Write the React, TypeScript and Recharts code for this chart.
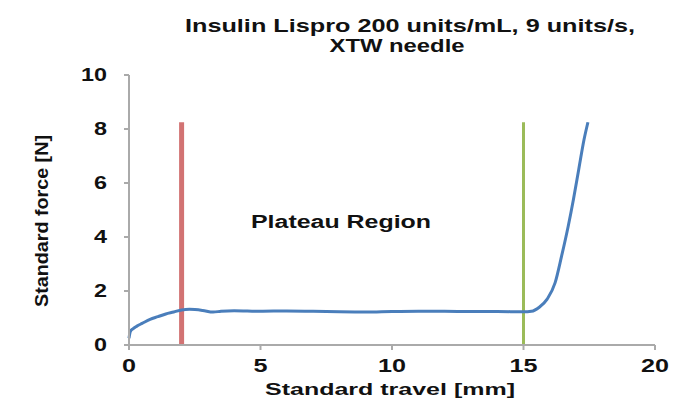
import React from "react";
import {
  LineChart,
  Line,
  XAxis,
  YAxis,
  ReferenceLine,
} from "recharts";

const travel = [
  0, 0.05, 0.15, 0.3, 0.5, 0.8, 1.1, 1.4, 1.7, 2.0, 2.3, 2.8, 3.2, 3.5, 4, 5, 6,
  7, 8, 9, 10, 11, 12, 13, 14, 15, 15.3, 15.6, 15.9, 16.2, 16.45, 16.7, 16.9,
  17.1, 17.3, 17.45,
];
const force = [
  0.25, 0.5, 0.6, 0.7, 0.8, 0.95, 1.05, 1.15, 1.22, 1.3, 1.32, 1.28, 1.22, 1.25,
  1.27, 1.25, 1.26, 1.25, 1.23, 1.22, 1.24, 1.25, 1.25, 1.24, 1.24, 1.23, 1.25,
  1.4, 1.7, 2.3, 3.3, 4.4, 5.4, 6.5, 7.6, 8.25,
];

const xTicks = [0, 5, 10, 15, 20];
const yTicks = [0, 2, 4, 6, 8, 10];

const plateauStart = 2;
const plateauEnd = 15;
const markerTop = 8.25;

const titleLines = ["Insulin Lispro 200 units/mL, 9 units/s,", "XTW needle"];
const xLabel = "Standard travel [mm]";
const yLabel = "Standard force [N]";
const regionLabel = "Plateau Region";

const data = travel.map((x, i) => ({ x, force: force[i] }));

const font = "'Liberation Sans', Arial, sans-serif";
const ink = "#111";

// the source image is stretched sideways, so texts get a fixed length
function stretchWidth(s: string, perChar: number) {
  return s.length * perChar;
}

function YTick(props: any) {
  const { x, y, payload } = props;
  const s = String(payload.value);
  return (
    <text
      x={x - 15}
      y={y + 6}
      textAnchor="end"
      fontSize={18}
      fontWeight="bold"
      fontFamily={font}
      fill={ink}
      textLength={stretchWidth(s, 13)}
      lengthAdjust="spacingAndGlyphs"
    >
      {s}
    </text>
  );
}

function XTick(props: any) {
  const { x, y, payload } = props;
  const s = String(payload.value);
  return (
    <text
      x={x}
      y={y + 20}
      textAnchor="middle"
      fontSize={18}
      fontWeight="bold"
      fontFamily={font}
      fill={ink}
      textLength={stretchWidth(s, 14)}
      lengthAdjust="spacingAndGlyphs"
    >
      {s}
    </text>
  );
}

function XTitle(props: any) {
  const vb = props.viewBox;
  return (
    <text
      x={vb.x + vb.width / 2 - 2}
      y={vb.y + 50}
      textAnchor="middle"
      fontSize={17}
      fontWeight="bold"
      fontFamily={font}
      fill={ink}
      textLength={250}
      lengthAdjust="spacingAndGlyphs"
    >
      {xLabel}
    </text>
  );
}

function YTitle(props: any) {
  const vb = props.viewBox;
  const cx = vb.x + 19;
  const cy = vb.y + vb.height / 2 + 11;
  return (
    <text
      x={cx}
      y={cy}
      transform={`rotate(-90 ${cx} ${cy})`}
      textAnchor="middle"
      fontSize={18}
      fontWeight="bold"
      fontFamily={font}
      fill={ink}
      textLength={172}
      lengthAdjust="spacingAndGlyphs"
    >
      {yLabel}
    </text>
  );
}

export default function App() {
  return (
    <div style={{ position: "absolute", left: 0, top: 0, width: 673, height: 400, background: "#fff" }}>
      <svg width={673} height={400} style={{ position: "absolute", left: 0, top: 0 }}>
        <text x={410} y={32} textAnchor="middle" fontSize={19} fontWeight="bold" fontFamily={font} fill={ink} textLength={450} lengthAdjust="spacingAndGlyphs">
          {titleLines[0]}
        </text>
        <text x={397} y={52} textAnchor="middle" fontSize={19} fontWeight="bold" fontFamily={font} fill={ink} textLength={135} lengthAdjust="spacingAndGlyphs">
          {titleLines[1]}
        </text>
        <text x={341} y={228} textAnchor="middle" fontSize={18} fontWeight="bold" fontFamily={font} fill={ink} textLength={180} lengthAdjust="spacingAndGlyphs">
          {regionLabel}
        </text>
      </svg>
      <div style={{ position: "absolute", left: 0, top: 0 }}>
        <LineChart
          width={673}
          height={400}
          data={data}
          margin={{ top: 75, right: 18, bottom: 0, left: 29 }}
        >
          <XAxis
            type="number"
            dataKey="x"
            domain={[0, 20]}
            ticks={xTicks}
            tick={<XTick />}
            stroke="#aaa"
            strokeWidth={2}
            tickSize={5}
            height={55}
            label={<XTitle />}
          />
          <YAxis
            type="number"
            domain={[0, 10]}
            ticks={yTicks}
            tick={<YTick />}
            stroke="#aaa"
            strokeWidth={2}
            tickSize={5}
            width={100}
            label={<YTitle />}
          />
          <ReferenceLine
            segment={[{ x: plateauStart, y: 0 }, { x: plateauStart, y: markerTop }]}
            stroke="#d27373"
            strokeWidth={5}
          />
          <ReferenceLine
            segment={[{ x: plateauEnd, y: 0 }, { x: plateauEnd, y: markerTop }]}
            stroke="#9bbb59"
            strokeWidth={3}
          />
          <Line
            type="monotone"
            dataKey="force"
            stroke="#4a7ebb"
            strokeWidth={3}
            dot={false}
            isAnimationActive={false}
          />
        </LineChart>
      </div>
    </div>
  );
}
